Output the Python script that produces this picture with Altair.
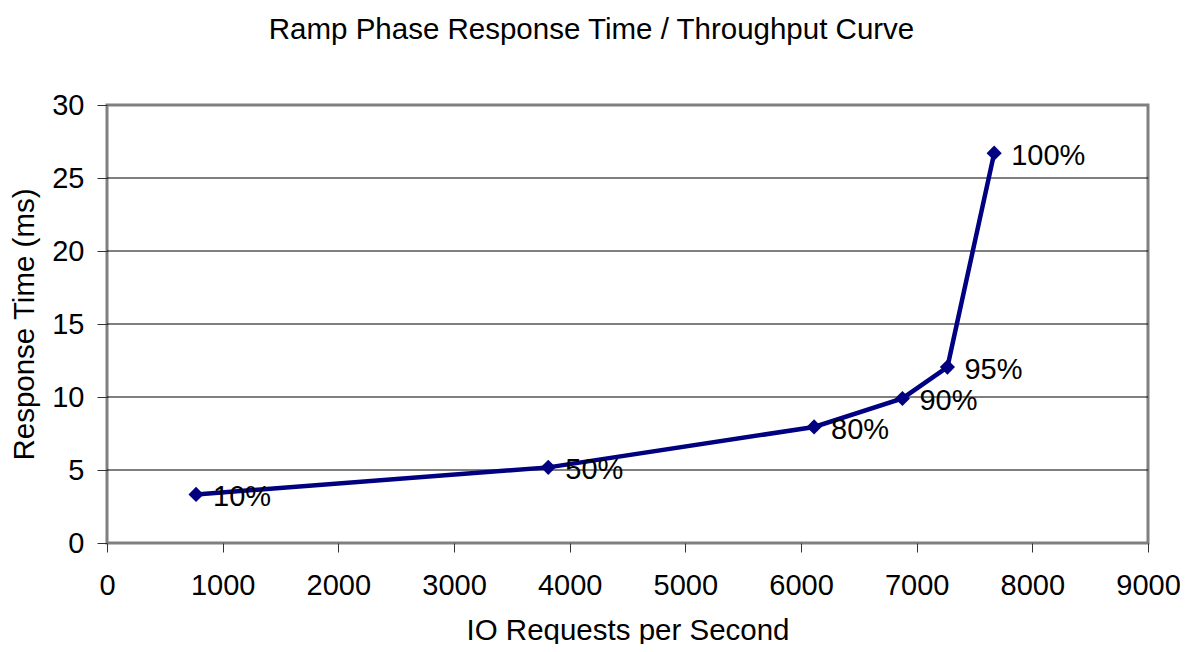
import altair as alt
import pandas as pd

iops = [770, 3815, 6113, 6877, 7266, 7670]
resp_ms = [3.33, 5.18, 7.95, 9.9, 12.05, 26.7]
load_labels = ["10%", "50%", "80%", "90%", "95%", "100%"]
grid_values = [5, 10, 15, 20, 25]

df = pd.DataFrame({"iops": iops, "resp": resp_ms, "label": load_labels})
gdf = pd.DataFrame({"resp": grid_values})

FONT = "Liberation Sans"
NAVY = "#000080"
FS = 29

x_axis = alt.Axis(title="IO Requests per Second", values=list(range(0, 9001, 1000)),
                  grid=False, domain=False, ticks=True, tickSize=9, tickColor="#333333",
                  tickWidth=1, labelFontSize=FS, labelFont=FONT, labelColor="black",
                  labelPadding=19, titleFontSize=29.5, titleFont=FONT, titleFontWeight="normal",
                  titleColor="black", titleBaseline="alphabetic", titleY=96,
                  labelFlush=False, format="d")
y_axis = alt.Axis(title="Response Time (ms)", values=list(range(0, 31, 5)),
                  grid=False, domain=False,
                  ticks=True, tickSize=10, tickColor="#333333", tickWidth=1,
                  labelFontSize=FS, labelFont=FONT, labelColor="black", labelPadding=13,
                  titleFontSize=29.5, titleFont=FONT, titleFontWeight="normal",
                  titleColor="black", titleBaseline="alphabetic", titleX=-74, titleY=219,
                  titleAlign="center", titleAngle=270, format="d")

xs = alt.Scale(domain=[0, 9000], nice=False)
ys = alt.Scale(domain=[0, 30], nice=False)
x = alt.X("iops:Q", scale=xs, axis=x_axis)
y = alt.Y("resp:Q", scale=ys, axis=y_axis)

grid = alt.Chart(gdf).mark_rule(color="black", strokeWidth=1).encode(y=y)

base = alt.Chart(df)
line = base.mark_line(color=NAVY, strokeWidth=4.5).encode(x=x, y=y)
pts = base.mark_point(shape="diamond", filled=True, size=230, color=NAVY, opacity=1).encode(x=x, y=y)
txt = base.mark_text(align="left", baseline="middle", dx=17, dy=3, fontSize=FS, font=FONT,
                     color="black").encode(x=x, y=y, text="label:N")

chart = alt.layer(grid, line, pts, txt).properties(
    width=1041, height=438,
    background="white",
    title=alt.TitleParams("Ramp Phase Response Time / Throughput Curve", fontSize=29.5, font=FONT,
                          fontWeight="normal", color="black", anchor="middle", dx=-36,
                          baseline="alphabetic", offset=23),
    autosize=alt.AutoSizeParams(type="none"),
    padding={"left": 99, "top": 97, "right": 32, "bottom": 101},
).configure_view(stroke="#808080", strokeWidth=3)

chart.save("out.html", embed_options={"renderer": "svg", "actions": False})
